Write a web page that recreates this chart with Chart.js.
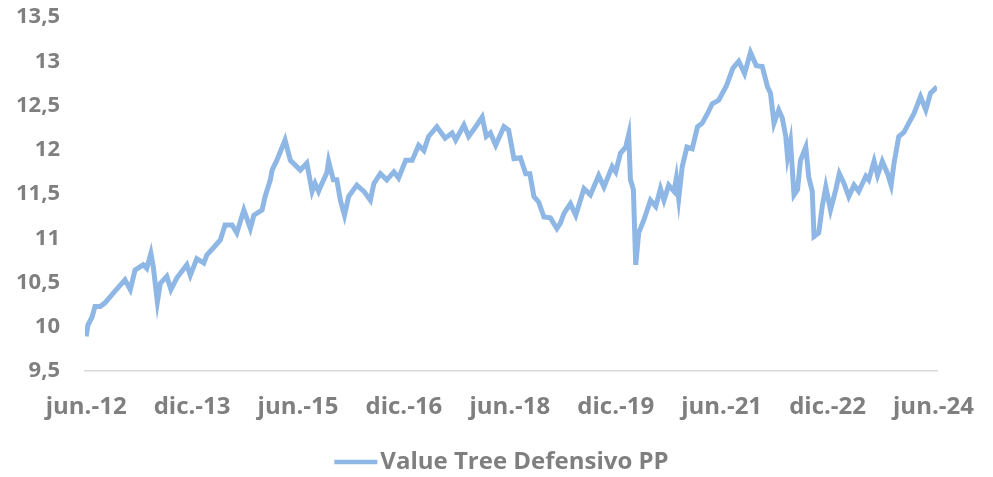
<!DOCTYPE html>
<html lang="es">
<head>
<meta charset="UTF-8" />
<title>Value Tree Defensivo PP</title>
<script src="https://cdn.jsdelivr.net/npm/chart.js"></script>
<style>
  html, body { margin: 0; padding: 0; background: #fff; }
  #wrap { width: 993px; height: 477px; }
</style>
</head>
<body>
<div id="wrap"><canvas id="chart"></canvas></div>
<script>
// meses desde jun.-12
const months = [
  0, 0.3, 1, 1.5, 2.4, 3.2, 4.6, 5.8, 6.6, 7.5, 8.3, 9.7, 10.3, 11, 11.4, 12.1, 12.6, 13.7, 14.4, 15.4,
  17.1, 17.7, 18.8, 20, 20.5, 21.6, 22.8, 23.6, 24.8, 25.6, 26.8, 27.9, 28.5, 29.9, 30.4, 31.3, 31.6, 32.4, 33.8, 34.7,
  36.4, 37.5, 38.4, 38.9, 39.5, 39.8, 40.9, 41.2, 42, 42.6, 43.2, 43.9, 44.6, 46, 47.2, 48.3, 48.9, 50, 51.1, 52.3,
  53.1, 54.3, 55.4, 56.5, 57.4, 58.2, 59.6, 61, 62.2, 62.8, 64.2, 65, 66.2, 67.3, 68, 68.7, 69.6, 71, 71.8, 72.7,
  73.8, 74.7, 75.4, 76.1, 76.9, 77.8, 78.9, 80, 80.6, 81.2, 82.3, 83.2, 84.6, 85.7, 87.1, 88, 89.4, 90, 90.8, 91.7,
  92.2, 92.5, 93, 93.4, 93.9, 94.8, 95.9, 96.8, 97.6, 98.2, 99, 99.9, 100.3, 100.7, 101.3, 102.1, 103, 103.9, 104.7, 105.6,
  106.4, 107.5, 108.8, 109.9, 110.9, 111.9, 112.9, 113.9, 114.9, 115.8, 116.3, 116.9, 117.7, 118.3, 118.9, 119.2, 119.7, 120.3, 120.9, 121.4,
  122.3, 122.8, 123.4, 123.7, 124.5, 125.1, 125.7, 126.5, 127.4, 128, 128.8, 129.6, 130.5, 131.3, 132.5, 133, 133.9, 134.5, 135.3, 136.2,
  136.8, 137.3, 138.1, 139, 139.8, 140.7, 141.8, 142.7, 143.5, 144.6
];
const values = [
  9.89, 10.02, 10.11, 10.23, 10.23, 10.27, 10.38, 10.47, 10.53, 10.42, 10.64, 10.70, 10.66, 10.83, 10.68, 10.28, 10.49, 10.57, 10.42, 10.55,
  10.70, 10.58, 10.77, 10.72, 10.81, 10.89, 10.98, 11.15, 11.15, 11.06, 11.32, 11.11, 11.26, 11.32, 11.47, 11.66, 11.77, 11.88, 12.11, 11.88,
  11.77, 11.85, 11.53, 11.62, 11.53, 11.58, 11.74, 11.87, 11.66, 11.66, 11.43, 11.26, 11.47, 11.60, 11.53, 11.43, 11.62, 11.73, 11.66, 11.75,
  11.68, 11.88, 11.88, 12.05, 11.99, 12.15, 12.26, 12.13, 12.19, 12.11, 12.28, 12.15, 12.26, 12.37, 12.15, 12.19, 12.05, 12.26, 12.22, 11.90,
  11.91, 11.73, 11.73, 11.47, 11.41, 11.24, 11.23, 11.11, 11.17, 11.28, 11.39, 11.26, 11.56, 11.49, 11.71, 11.58, 11.81, 11.75, 11.96, 12.03,
  12.17, 11.66, 11.55, 10.70, 11.06, 11.21, 11.43, 11.36, 11.56, 11.43, 11.60, 11.53, 11.68, 11.45, 11.81, 12.03, 12.01, 12.26, 12.30, 12.41,
  12.52, 12.56, 12.72, 12.92, 13.00, 12.86, 13.10, 12.95, 12.94, 12.71, 12.64, 12.30, 12.45, 12.36, 12.15, 11.92, 12.09, 11.49, 11.55, 11.88,
  12.03, 11.69, 11.53, 11.02, 11.06, 11.36, 11.58, 11.32, 11.55, 11.73, 11.62, 11.47, 11.60, 11.53, 11.70, 11.66, 11.87, 11.71, 11.87, 11.73,
  11.60, 11.85, 12.15, 12.20, 12.30, 12.41, 12.60, 12.45, 12.64, 12.71
];
const tickLabels = ["jun.-12", "dic.-13", "jun.-15", "dic.-16", "jun.-18", "dic.-19", "jun.-21", "dic.-22", "jun.-24"];
const seriesName = "Value Tree Defensivo PP";

const lineColor = "#8eb7e5";
const textColor = "#7f7f7f";
const yFont = { family: "'Open Sans', sans-serif", size: 22, weight: "bold" };
const xFont = { family: "'Open Sans', sans-serif", size: 24, weight: "bold" };

// leyenda abajo: línea corta + texto, estilo Excel
const bottomLegend = {
  id: "bottomLegend",
  afterDraw(chart) {
    const ctx = chart.ctx;
    const ds = chart.data.datasets[0];
    ctx.save();
    ctx.font = "bold 24px 'Open Sans', sans-serif";
    const lineLen = 43, gap = 3;
    const total = lineLen + gap + ctx.measureText(ds.label).width;
    const x0 = chart.width / 2 + 5 - total / 2;
    const y = chart.height - 15;
    ctx.strokeStyle = ds.borderColor;
    ctx.lineWidth = 4.5;
    ctx.beginPath();
    ctx.moveTo(x0, y);
    ctx.lineTo(x0 + lineLen, y);
    ctx.stroke();
    ctx.fillStyle = textColor;
    ctx.textBaseline = "middle";
    ctx.fillText(ds.label, x0 + lineLen + gap, y);
    ctx.restore();
  }
};

new Chart(document.getElementById("chart"), {
  type: "line",
  data: {
    datasets: [{
      label: seriesName,
      data: months.map((m, i) => ({ x: m, y: values[i] })),
      borderColor: lineColor,
      backgroundColor: lineColor,
      borderWidth: 5,
      pointRadius: 0,
      tension: 0,
      fill: false
    }]
  },
  options: {
    responsive: true,
    maintainAspectRatio: false,
    animation: false,
    layout: { padding: { left: 12, right: 56, top: 17, bottom: 30 } },
    scales: {
      x: {
        type: "linear",
        min: -0.2,
        max: 144.6,
        afterBuildTicks: (axis) => {
          axis.ticks = tickLabels.map((_, i) => ({ value: i * 18 }));
        },
        afterFit: (axis) => { axis.paddingLeft = 0; axis.paddingRight = 0; axis.height = 76; },
        ticks: {
          color: textColor,
          font: xFont,
          padding: 22,
          maxRotation: 0,
          autoSkip: false,
          callback: (v, i) => tickLabels[i]
        },
        grid: { display: false, drawTicks: false },
        border: { display: true, color: "#d9d9d9", width: 1.5 }
      },
      y: {
        min: 9.5,
        max: 13.5,
        afterFit: (axis) => { axis.width = 73; axis.paddingTop = 0; axis.paddingBottom = 0; },
        ticks: {
          stepSize: 0.5,
          color: textColor,
          font: yFont,
          padding: 25,
          callback: (v) => String(v).replace(".", ",")
        },
        grid: { display: false, drawTicks: false },
        border: { display: false }
      }
    },
    plugins: {
      legend: { display: false },
      tooltip: { enabled: false }
    }
  },
  plugins: [bottomLegend]
});
</script>
</body>
</html>
